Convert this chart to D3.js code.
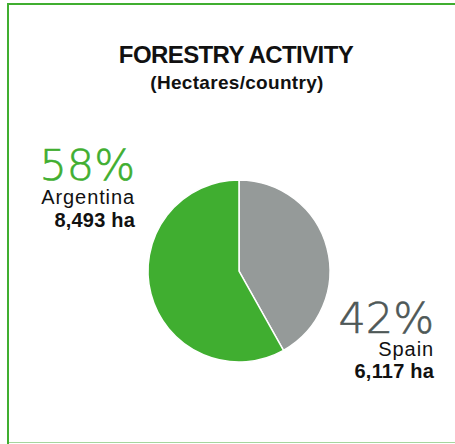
<!DOCTYPE html>
<html>
<head>
<meta charset="utf-8">
<script src="https://cdn.jsdelivr.net/npm/d3@7"></script>
<style>
  html, body { margin: 0; padding: 0; background: #fff; }
  svg { display: block; }
</style>
</head>
<body>
<svg id="chart" width="455" height="444"></svg>
<script>
const categories = ["Argentina", "Spain"];
const hectares = [8493, 6117];
const percentLabels = ["58%", "42%"];
const hectareLabels = ["8,493 ha", "6,117 ha"];
const colors = ["#40ae30", "#959a99"];
const pctColors = ["#40ae30", "#4e5857"];

const svg = d3.select("#chart");

// border
svg.append("line").attr("x1", 8).attr("x2", 8).attr("y1", 3).attr("y2", 444)
  .attr("stroke", "#40ae30").attr("stroke-width", 2);
svg.append("line").attr("x1", 7).attr("x2", 455).attr("y1", 4).attr("y2", 4)
  .attr("stroke", "#40ae30").attr("stroke-width", 2);
svg.append("line").attr("x1", 9).attr("x2", 455).attr("y1", 442.5).attr("y2", 442.5)
  .attr("stroke", "#a6d59e").attr("stroke-width", 1);

// title
svg.append("text").attr("x", 236).attr("y", 63).attr("text-anchor", "middle")
  .attr("font-family", "Liberation Sans, Arial, sans-serif").attr("font-weight", "bold")
  .attr("font-size", 24).attr("letter-spacing", "-0.6").attr("fill", "#111")
  .text("FORESTRY ACTIVITY");
svg.append("text").attr("x", 237).attr("y", 89).attr("text-anchor", "middle")
  .attr("font-family", "Liberation Sans, Arial, sans-serif").attr("font-weight", "bold")
  .attr("font-size", 19).attr("letter-spacing", "0.3").attr("fill", "#111")
  .text("(Hectares/country)");

// pie
const cx = 239, cy = 271, r = 91;
const data = categories.map((c, i) => ({ name: c, value: hectares[i], i }));
const pie = d3.pie().value(d => d.value).sort(null);
const arcs = pie(data.slice().reverse()); // Spain starts at 12 o'clock clockwise
const arc = d3.arc().innerRadius(0).outerRadius(r);
const g = svg.append("g").attr("transform", `translate(${cx},${cy})`);
g.selectAll("path").data(arcs).join("path")
  .attr("d", arc)
  .attr("fill", d => colors[d.data.i])
  .attr("stroke", "#fff").attr("stroke-width", 1.5);

// labels
const labelPos = [
  { x: 135, y: 180, y2: 204, y3: 227 },
  { x: 434, y: 333, y2: 356, y3: 378 }
];
categories.forEach((c, i) => {
  const p = labelPos[i];
  svg.append("text").attr("x", p.x).attr("y", p.y).attr("text-anchor", "end")
    .attr("font-family", "DejaVu Sans, sans-serif").attr("font-weight", 200)
    .attr("font-size", 43).attr("fill", pctColors[i])
    .attr("stroke", pctColors[i]).attr("stroke-width", 0.6)
    .text(percentLabels[i]);
  svg.append("text").attr("x", p.x).attr("y", p.y2).attr("text-anchor", "end")
    .attr("font-family", "Liberation Sans, Arial, sans-serif")
    .attr("font-size", 20).attr("letter-spacing", "0.9").attr("fill", "#111").text(c);
  svg.append("text").attr("x", p.x).attr("y", p.y3).attr("text-anchor", "end")
    .attr("font-family", "Liberation Sans, Arial, sans-serif").attr("font-weight", "bold")
    .attr("font-size", 20).attr("letter-spacing", "0.2").attr("fill", "#111").text(hectareLabels[i]);
});
</script>
</body>
</html>
